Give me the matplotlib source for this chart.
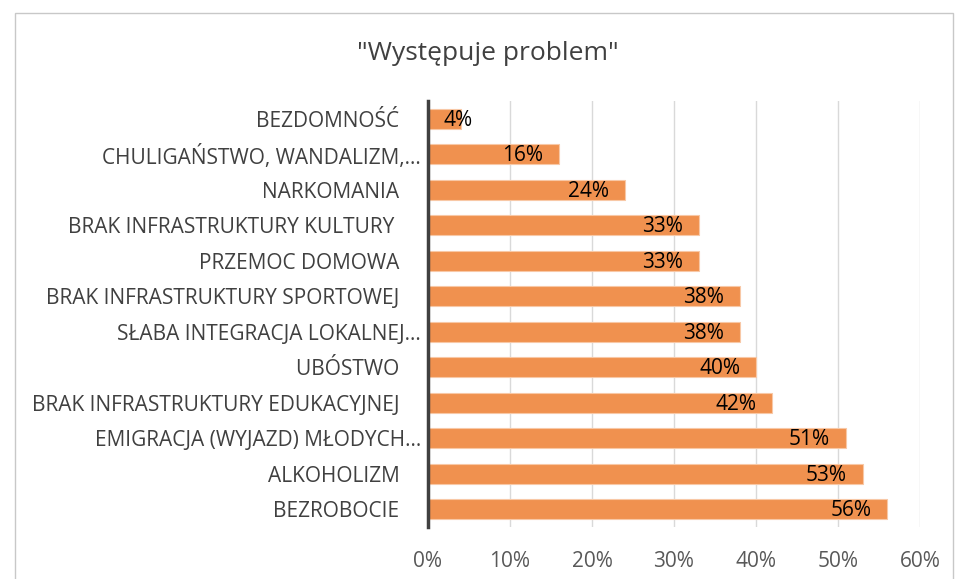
import matplotlib.pyplot as plt
from matplotlib.patches import Rectangle
from matplotlib.ticker import PercentFormatter

plt.rcParams['font.family'] = ['Open Sans', 'DejaVu Sans']

# kategorie od gory do dolu
categories = [
    'BEZDOMNOŚĆ    ',
    'CHULIGAŃSTWO, WANDALIZM,…',
    'NARKOMANIA    ',
    'BRAK INFRASTRUKTURY KULTURY     ',
    'PRZEMOC DOMOWA    ',
    'BRAK INFRASTRUKTURY SPORTOWEJ    ',
    'SŁABA INTEGRACJA LOKALNEJ…',
    'UBÓSTWO    ',
    'BRAK INFRASTRUKTURY EDUKACYJNEJ    ',
    'EMIGRACJA (WYJAZD) MŁODYCH…',
    'ALKOHOLIZM    ',
    'BEZROBOCIE    ',
]
values = [4, 16, 24, 33, 33, 38, 38, 40, 42, 51, 53, 56]
x_ticks = [0, 10, 20, 30, 40, 50, 60]

fig = plt.figure(figsize=(9.57, 5.79), dpi=100)
# ramka wykresu
fig.patches.append(Rectangle((15 / 957, -0.01), 938 / 957, 1 - 13 / 579 + 0.01,
                             transform=fig.transFigure, fill=False,
                             edgecolor='#c8c8c8', linewidth=1))

ax = fig.add_axes([428 / 957, 1 - 527 / 579, 492 / 957, 426 / 579])

y = list(range(len(categories)))
ax.barh(y, values, height=0.57, color='#F0914F', edgecolor='#f8c8a6',
        linewidth=0.8, zorder=3)

# etykiety wartosci przy koncu slupka
for yi, v in zip(y, values):
    ax.text(max(v - 1.95, 5.5), yi + 0.04, f'{v}%', ha='right', va='center',
            fontsize=15, color='black', zorder=4)

ax.set_xlim(0, 60)
ax.set_ylim(len(categories) - 0.5, -0.5)
ax.set_xticks(x_ticks)
ax.xaxis.set_major_formatter(PercentFormatter(decimals=0))
ax.set_yticks(y)
ax.set_yticklabels(categories)

ax.grid(axis='x', color='#d9d9d9', linewidth=1, zorder=0)
for s in ['top', 'right', 'bottom']:
    ax.spines[s].set_visible(False)
ax.spines['left'].set_color('#404040')
ax.spines['left'].set_linewidth(2.5)
ax.spines['left'].set_zorder(5)

ax.tick_params(axis='x', length=0, pad=17, labelsize=15, labelcolor='#595959')
ax.tick_params(axis='y', length=0, pad=5, labelsize=15, labelcolor='#404040')

fig.text(488 / 957, 1 - 54 / 579, '"Występuje problem"', ha='center',
         va='center', fontsize=19, color='#404040')

fig.savefig('out.png', dpi=100)
